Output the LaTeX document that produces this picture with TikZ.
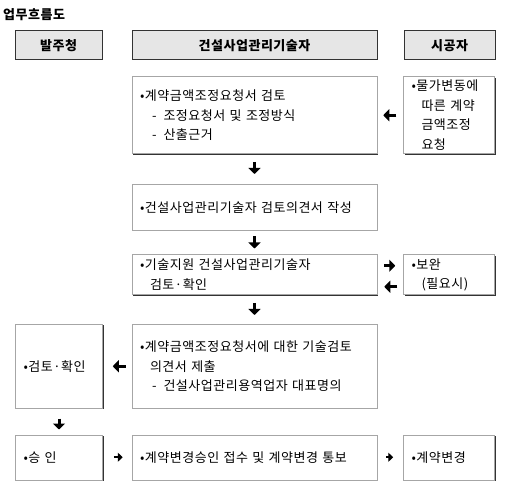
\documentclass[tikz,border=0pt]{standalone}
\usepackage{fontspec}
\setmainfont[LetterSpace=4]{Noto Sans CJK KR}
\usepackage{tikz}
\usetikzlibrary{arrows.meta, positioning, shadows}
\definecolor{HeadGray}{HTML}{E6E6E6}
\definecolor{EdgeDark}{HTML}{333333}
\tikzset{
  % Box styles
  headbox/.style={rectangle, draw=EdgeDark, line width=1pt, fill=HeadGray, minimum height=29pt, inner sep=0pt, font=\fontsize{13}{15}\selectfont\bfseries, align=center},
  taskbox/.style={rectangle, draw=black!35, line width=0.5pt, fill=white, inner xsep=8pt, inner ysep=0pt, font=\fontsize{13}{19.5}\selectfont, align=left, drop shadow={shadow xshift=1.2pt, shadow yshift=-1.2pt, opacity=1, fill=EdgeDark}},
  midbox/.style={taskbox, text width=229pt},
  sidebox/.style={taskbox, text width=71pt},
  rightbox/.style={taskbox, text width=75pt},
  % Arrow styles
  arrow/.style={-{Triangle[length=6pt,width=12pt]}, line width=3pt, black},
  smallarrow/.style={-{Triangle[length=5pt,width=9pt]}, line width=2.4pt, black}
}
\begin{document}
\begin{tikzpicture}
  \useasboundingbox (0,0) rectangle (511pt,-502pt);
  % Title
  \node[anchor=west, inner sep=0pt, font=\fontsize{13}{15}\selectfont\bfseries] (title) at (3pt,-15pt) {업무흐름도};
  % Column headers
  \node[headbox, minimum width=87pt] (client) at (58.5pt,-45.5pt) {발주청};
  \node[headbox, minimum width=245pt, right=29pt of client] (cm) {건설사업관리기술자};
  \node[headbox, minimum width=91pt, right=26pt of cm] (builder) {시공자};
  % Construction manager column
  \node[midbox, minimum height=77pt, below=16pt of cm] (review) {•계약금액조정요청서 검토\\\hspace{12pt}-\hspace{7pt}조정요청서 및 조정방식\\\hspace{12pt}-\hspace{7pt}산출근거};
  \node[midbox, minimum height=46pt, below=30pt of review] (opinion) {•건설사업관리기술자 검토의견서 작성};
  \node[midbox, minimum height=40pt, below=24pt of opinion] (support) {•기술지원 건설사업관리기술자\\\hspace{10pt}검토·확인};
  \node[midbox, minimum height=84pt, below=29pt of support] (submit) {•계약금액조정요청서에 대한 기술검토\\\hspace{10pt}의견서 제출\\\hspace{12pt}-\hspace{7pt}건설사업관리용역업자 대표명의};
  \node[midbox, minimum height=45pt, below=26pt of submit] (notify) {•계약변경승인 접수 및 계약변경 통보};
  % Builder column
  \node[rightbox, minimum height=77pt, right=26pt of review] (request) {•물가변동에\\\hspace{10pt}따른 계약\\\hspace{10pt}금액조정\\\hspace{10pt}요청};
  \node[rightbox, minimum height=40pt, right=26pt of support] (supplement) {•보완\\\hspace{10pt}(필요시)};
  \node[rightbox, minimum height=45pt, right=26pt of notify] (change) {•계약변경};
  % Client column
  \node[sidebox, minimum height=84pt, left=29pt of submit] (check) {•검토·확인};
  \node[sidebox, minimum height=45pt, left=29pt of notify] (approve) {•승 인};
  % Flow arrows
  \draw[arrow, shorten <=7pt, shorten >=6pt] (request) -- (review);
  \draw[arrow, shorten <=8pt, shorten >=10pt] (review) -- (opinion);
  \draw[arrow, shorten <=6pt, shorten >=6pt] (opinion) -- (support);
  \draw[arrow, shorten <=7pt, shorten >=8pt] ([yshift=9pt]support.east) -- ([yshift=9pt]supplement.west);
  \draw[arrow, shorten <=6pt, shorten >=7pt] ([yshift=-12pt]supplement.west) -- ([yshift=-12pt]support.east);
  \draw[arrow, shorten <=8pt, shorten >=9pt] (support) -- (submit);
  \draw[arrow, shorten <=6pt, shorten >=10pt] (submit) -- (check);
  \draw[arrow, shorten <=10pt, shorten >=5pt] (check) -- (approve);
  \draw[smallarrow, shorten <=11pt, shorten >=9pt] (approve) -- (notify);
  \draw[smallarrow, shorten <=9pt, shorten >=10pt] (notify) -- (change);
\end{tikzpicture}
\end{document}
